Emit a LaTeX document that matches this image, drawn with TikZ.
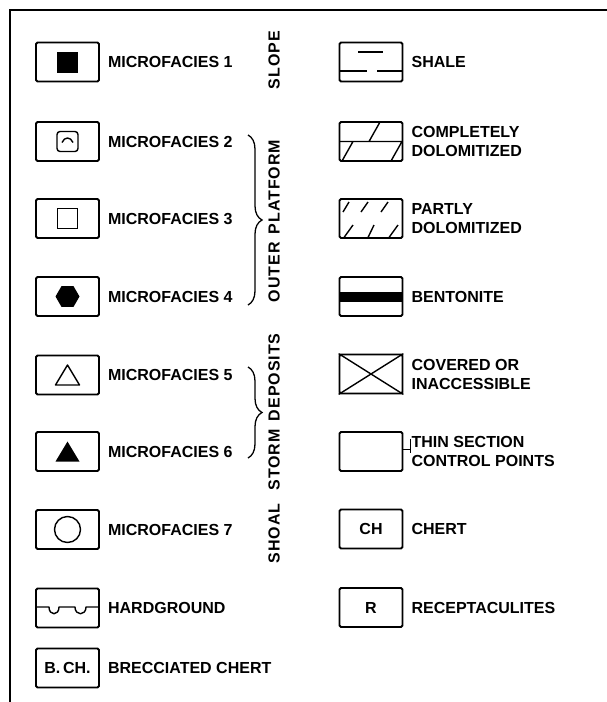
\documentclass[tikz,border=0pt]{standalone}
\usepackage{fontspec}
\newfontfamily\leroy{Liberation Sans Bold}
\newfontfamily\leroywide[LetterSpace=6]{Liberation Sans Bold}
\usetikzlibrary{positioning, decorations.pathreplacing, calc}

\tikzset{
    keyfont/.style={font=\leroy\fontsize{16}{19}\selectfont},
    keybox/.style={draw, keyfont, line width=1.8pt, rounded corners=1.5pt,
        minimum width=63pt, minimum height=39pt, inner sep=0pt},
    keytext/.style={keyfont, anchor=west, inner sep=0pt, align=left},
    grouptext/.style={font=\leroywide\fontsize{16}{19}\selectfont, rotate=90, inner sep=0pt},
    groupbrace/.style={decorate, decoration={brace, amplitude=14pt}, line width=1.3pt},
    symline/.style={line width=1.4pt, line join=round},
}

\begin{document}
\begin{tikzpicture}[x=1pt, y=-1pt]

    % --- 1. PAGE AND FRAME ---
    \useasboundingbox (0,0) rectangle (607,702);
    \draw[line width=2pt] (10,703) -- (10,10) -- (608,10);

    \def\xL{67.5}   % left column boxes
    \def\xR{371}    % right column boxes
    \def\xG{274}    % group labels

    % --- 2. LEFT COLUMN: MICROFACIES ---
    \node[keybox] (mfA) at (\xL,62) {};
    \node[keytext, right=8pt of mfA] (mfAtext) {MICROFACIES 1};
    \fill[shift={(mfA)}] (-10.5,-10.5) rectangle (10.5,10.5);

    \node[keybox] (mfB) at (\xL,141.5) {};
    \node[keytext, right=8pt of mfB] (mfBtext) {MICROFACIES 2};
    \draw[shift={(mfB)}, symline, rounded corners=3pt] (-10.5,-10) rectangle (10.5,10);
    \draw[shift={(mfB)}, symline] (-5.5,1) .. controls (-3,-5) and (3,-5) .. (5.5,1);

    \node[keybox] (mfC) at (\xL,218.5) {};
    \node[keytext, right=8pt of mfC] (mfCtext) {MICROFACIES 3};
    \draw[shift={(mfC)}, line width=1.2pt] (-10,-10) rectangle (10,10);

    \node[keybox] (mfD) at (\xL,296.5) {};
    \node[keytext, right=8pt of mfD] (mfDtext) {MICROFACIES 4};
    \fill[shift={(mfD)}] (-12,0) -- (-6,-10.4) -- (6,-10.4) -- (12,0) -- (6,10.4) -- (-6,10.4) -- cycle;

    \node[keybox] (mfE) at (\xL,375) {};
    \node[keytext, right=8pt of mfE] (mfEtext) {MICROFACIES 5};
    \draw[shift={(mfE)}, symline] (-12,10) -- (0,-10) -- (12,10) -- cycle;

    \node[keybox] (mfF) at (\xL,451.5) {};
    \node[keytext, right=8pt of mfF] (mfFtext) {MICROFACIES 6};
    \fill[shift={(mfF)}] (-12,10) -- (0,-10) -- (12,10) -- cycle;

    \node[keybox] (mfG) at (\xL,529.5) {};
    \node[keytext, right=8pt of mfG] (mfGtext) {MICROFACIES 7};
    \draw[shift={(mfG)}, symline] (0,0) circle[radius=13];

    % Hardground and brecciated chert
    \node[keybox] (hard) at (\xL,608) {};
    \node[keytext, right=8pt of hard] (hardtext) {HARDGROUND};
    \draw[shift={(hard)}, symline] (-31.5,-1) -- (-18.5,-1)
        .. controls (-18.5,8) and (-8.5,8) .. (-8.5,-1) -- (7.5,-1)
        .. controls (7.5,8) and (18.5,8) .. (18.5,-1) -- (31.5,-1);

    \node[keybox] (bch) at (\xL,668) {B.\,CH.};
    \node[keytext, right=8pt of bch] (bchtext) {BRECCIATED CHERT};

    % --- 3. ENVIRONMENT GROUPS ---
    \node[grouptext] (slope) at (\xG,60) {SLOPE};
    \node[grouptext] (platform) at (\xG,221) {OUTER\, PLATFORM};
    \node[grouptext] (storm) at (\xG,412) {STORM\, DEPOSITS};
    \node[grouptext] (shoal) at (\xG,533.5) {SHOAL};

    \coordinate (platTop) at (248,135);
    \coordinate (platBot) at (248,305);
    \draw[groupbrace] (platTop) -- (platBot);
    \coordinate (stormTop) at (248,367);
    \coordinate (stormBot) at (248,458);
    \draw[groupbrace] (stormTop) -- (stormBot);

    % --- 4. RIGHT COLUMN: LITHOLOGY ---
    \node[keybox] (shale) at (\xR,62) {};
    \node[keytext, right=8pt of shale] (shaletext) {SHALE};
    \draw[shift={(shale)}, symline] (-13,-10) -- (12,-10) (-31,9) -- (-4,9) (6,9) -- (31,9);

    \node[keybox] (cdol) at (\xR,141.5) {};
    \node[keytext, right=8pt of cdol] (cdoltext) {COMPLETELY\\DOLOMITIZED};
    \draw[shift={(cdol)}, symline] (-31,0) -- (31,0) (-2,0) -- (9,-19.5)
        (-29,19.5) -- (-18,0) (20,19.5) -- (31,0);

    \node[keybox] (pdol) at (\xR,218.5) {};
    \node[keytext, right=8pt of pdol] (pdoltext) {PARTLY\\DOLOMITIZED};
    \foreach \a/\b in {-28/-22, -10/-3, 10/17}
        \draw[shift={(pdol)}, symline] (\a,-6.5) -- (\b,-16.5);
    \foreach \a/\b in {-27/-18, -3/3, 18/27}
        \draw[shift={(pdol)}, symline] (\a,19) -- (\b,6.5);

    \node[keybox] (bent) at (\xR,296.5) {};
    \node[keytext, right=8pt of bent] (benttext) {BENTONITE};
    \fill[shift={(bent)}] (-31,-5) rectangle (31,5);

    \node[keybox] (cover) at (\xR,374) {};
    \node[keytext, right=8pt of cover] (covertext) {COVERED OR\\INACCESSIBLE};
    \draw[symline] (cover.north west) -- (cover.south east)
        (cover.south west) -- (cover.north east);

    \node[keybox] (thin) at (\xR,451.5) {};
    \node[keytext, right=8pt of thin] (thintext) {THIN SECTION\\CONTROL POINTS};
    \coordinate (thinTick) at ($(thin.east)+(7,-2)$);
    \draw[symline] (thin.east |- thinTick) -- (thinTick);
    \draw[symline] ($(thinTick)+(0,-11)$) -- ($(thinTick)+(0,3)$);

    \node[keybox] (chert) at (\xR,529) {CH};
    \node[keytext, right=8pt of chert] (cherttext) {CHERT};

    \node[keybox] (recep) at (\xR,607.5) {R};
    \node[keytext, right=8pt of recep] (receptext) {RECEPTACULITES};

\end{tikzpicture}
\end{document}
